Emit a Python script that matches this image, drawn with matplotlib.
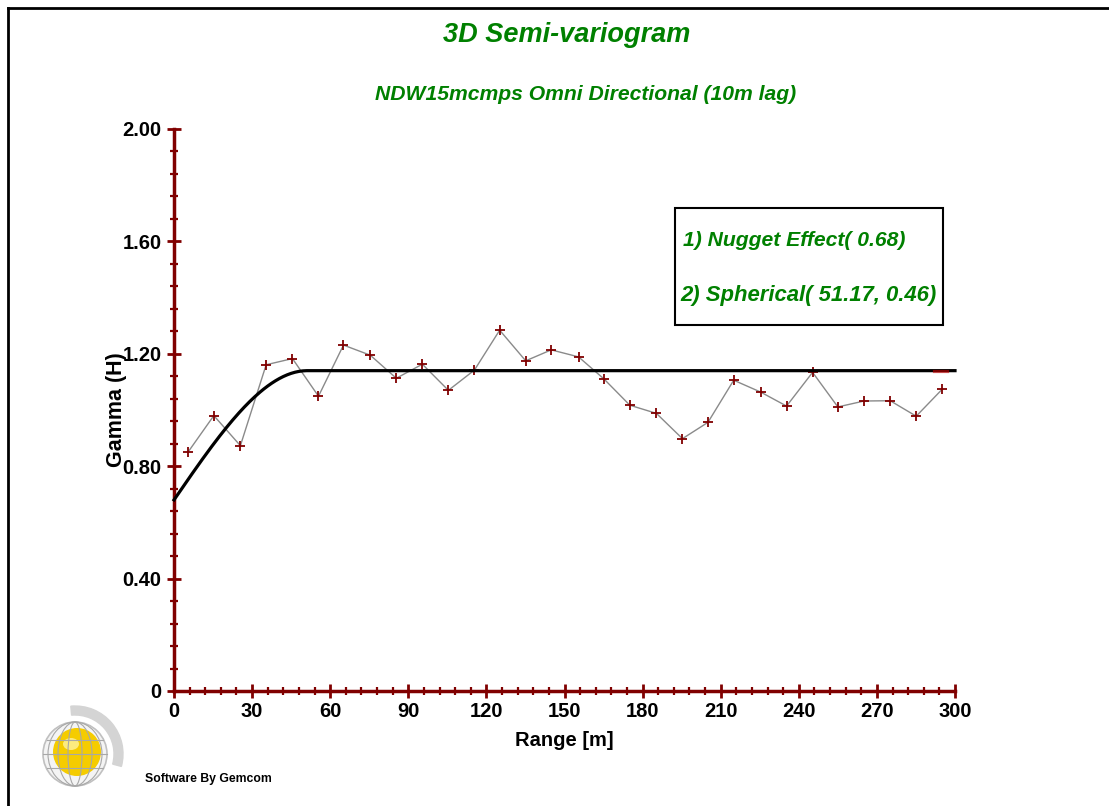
import numpy as np
import matplotlib
matplotlib.use("Agg")
import matplotlib.pyplot as plt
from matplotlib.lines import Line2D
from matplotlib.patches import Circle, Ellipse, Wedge, Rectangle

plt.rcParams['font.family'] = ['Liberation Sans', 'DejaVu Sans']

# ---- data ----
lag_dist = [5.3, 15.3, 25.5, 35.4, 45.5, 55.5, 65.1, 75.4, 85.4, 95.4,
            105.4, 115.4, 125.1, 135.1, 144.9, 155.4, 165.1, 175.1, 185.3, 195.3,
            205.1, 215.0, 225.3, 235.3, 245.3, 255.0, 265.1, 275.1, 285.1, 295.1]
gamma = [0.849, 0.980, 0.873, 1.161, 1.183, 1.049, 1.231, 1.195, 1.113, 1.163,
         1.070, 1.142, 1.284, 1.175, 1.214, 1.189, 1.111, 1.017, 0.988, 0.898,
         0.956, 1.106, 1.064, 1.014, 1.134, 1.011, 1.032, 1.033, 0.978, 1.074]
nugget = 0.68
sph_range = 51.17
sph_sill = 0.46
x_major = [0, 30, 60, 90, 120, 150, 180, 210, 240, 270, 300]
y_major = [0, 0.40, 0.80, 1.20, 1.60, 2.00]
y_labels = ["0", "0.40", "0.80", "1.20", "1.60", "2.00"]

GREEN = "#008000"
DRED = "#800000"

W, H = 1109, 806
fig = plt.figure(figsize=(W / 100, H / 100), dpi=100)

def fx(px):
    return px / W

def fy(py):
    return 1 - py / H

ax = fig.add_axes([fx(174), fy(691), fx(955) - fx(174), fy(129) - fy(691)])
ax.set_xlim(0, 300)
ax.set_ylim(0, 2.0)

# model curve
h = np.linspace(0, 300, 601)
hr = np.minimum(h / sph_range, 1.0)
model = nugget + sph_sill * (1.5 * hr - 0.5 * hr ** 3)
ax.plot(h, model, color="black", lw=2.3, zorder=3, clip_on=False)
ax.plot([292, 297], [nugget + sph_sill] * 2, color="#cc0000", lw=2.3, zorder=4, alpha=0.6)

# experimental
ax.plot(lag_dist, gamma, color="#8a8a8a", lw=1.0, zorder=2,
        marker="+", markersize=7, mew=1.3, mec=DRED)

for s in ["top", "right"]:
    ax.spines[s].set_visible(False)
for s in ["left", "bottom"]:
    ax.spines[s].set_color(DRED)
    ax.spines[s].set_linewidth(2.5)

ax.set_xticks(x_major)
ax.set_xticks(np.arange(0, 301, 6), minor=True)
ax.set_yticks(y_major)
ax.set_yticklabels(y_labels)
ax.set_yticks(np.arange(0, 2.001, 0.08), minor=True)
ax.tick_params(which="major", direction="inout", length=10, width=2, color=DRED,
               labelsize=14.5, pad=3)
ax.tick_params(which="minor", direction="inout", length=6, width=1.6, color=DRED)
for lab in ax.get_xticklabels() + ax.get_yticklabels():
    lab.set_fontweight("bold")
ax.tick_params(axis="y", pad=4)

ax.set_xlabel("Range [m]", fontsize=14.5, fontweight="bold", labelpad=7)
ax.set_ylabel("Gamma (H)", fontsize=15.5, fontweight="bold", labelpad=-3)

# titles
fig.text(fx(567), fy(35), "3D Semi-variogram", color=GREEN, fontsize=19.5,
         fontweight="bold", fontstyle="italic", ha="center", va="center")
fig.text(fx(586), fy(95), "NDW15mcmps Omni Directional (10m lag)", color=GREEN,
         fontsize=15.2, fontweight="bold", fontstyle="italic", ha="center", va="center")

# legend box
fig.add_artist(Rectangle((fx(675), fy(325)), fx(943) - fx(675), fy(208) - fy(325),
                         transform=fig.transFigure, fill=False, ec="black", lw=1.5))
fig.text(fx(683), fy(241), "1) Nugget Effect( 0.68)", color=GREEN, fontsize=15.2,
         fontweight="bold", fontstyle="italic", ha="left", va="center")
fig.text(fx(680), fy(296), "2) Spherical( 51.17, 0.46)", color=GREEN, fontsize=15.9,
         fontweight="bold", fontstyle="italic", ha="left", va="center")

# page border
fig.add_artist(Line2D([fx(8), 1], [fy(8), fy(8)], color="black", lw=2, transform=fig.transFigure))
fig.add_artist(Line2D([fx(8), fx(8)], [fy(8), 0], color="black", lw=2, transform=fig.transFigure))

# footer
fig.text(fx(145), fy(779), "Software By Gemcom", fontsize=8.8, fontweight="bold",
         ha="left", va="center")

# logo (pixel-like coordinates: x = px-38, y = 792-py)
lax = fig.add_axes([fx(38), fy(792), fx(128) - fx(38), fy(700) - fy(792)])
lax.set_xlim(0, 90)
lax.set_ylim(0, 92)
lax.set_aspect("equal")
lax.axis("off")
lax.add_patch(Wedge((37, 38), 48, -15, 95, width=9, color="#d4d4d4"))
lax.add_patch(Circle((37, 38), 32, fc="#f4f4f4", ec="#c0c0c0", lw=1.2))
lax.add_patch(Circle((39, 40), 24, fc="#f5cc00", ec="none"))
lax.add_patch(Ellipse((33, 48), 16, 12, fc="#fff3a0", ec="none", alpha=0.8))
for w in [14, 34, 54]:
    lax.add_patch(Ellipse((37, 38), w, 64, fill=False, ec="#a8a8a8", lw=0.8))
for yy, ww in [(38, 64), (24, 56), (52, 56)]:
    lax.plot([37 - ww / 2, 37 + ww / 2], [yy, yy], color="#a8a8a8", lw=0.8)

fig.savefig("out.png", dpi=100)
